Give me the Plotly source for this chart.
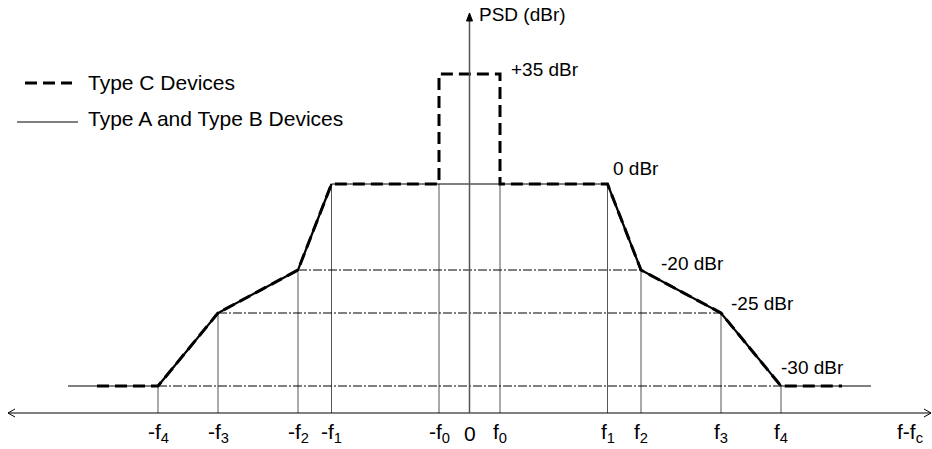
import plotly.graph_objects as go

# ---- schematic data (diagram units: x = frequency offset, y = height above axis) ----
freq_names = ["0", "1", "2", "3", "4"]
freq_offsets = [30.5, 138.0, 171.5, 251.5, 311.5]     # f0..f4
edge_levels = [0, 0, -20, -25, -30]                    # mask level (dBr) at each f
levels_dbr = [35, 0, -20, -25, -30]
level_heights = [339, 229, 143, 100, 27]
level_labels = ["+35 dBr", "0 dBr", "-20 dBr", "-25 dBr", "-30 dBr"]
tail_ab = 90      # extent of Type A/B line beyond f4
tail_c = 61       # extent of Type C dashes beyond f4
axis_half = 461.5
axis_top = 400

H = dict(zip(levels_dbr, level_heights))
F = dict(zip(freq_names, freq_offsets))
f0, f1, f2, f3, f4 = freq_offsets

BLACK = "#000000"
GRAY = "#555555"
FONT = "Liberation Sans, Arial, sans-serif"

fig = go.Figure()

def line(x, y, color=BLACK, width=1, dash="solid"):
    fig.add_trace(go.Scatter(x=x, y=y, mode="lines", hoverinfo="skip",
                             line=dict(color=color, width=width, dash=dash),
                             showlegend=False))

# vertical gray lines at +-f
for off, lev in zip(freq_offsets, edge_levels):
    for s in (-1, 1):
        line([s * off, s * off], [0, H[lev]], color=GRAY, width=1)

# dash-dot reference levels
for name, lev in zip(["2", "3", "4"], [-20, -25, -30]):
    line([-F[name], F[name]], [H[lev], H[lev]], color=BLACK, width=1,
         dash="9px,2px,2px,2px")

# Type A / B mask (thin solid)
mask_x = [-f4 - tail_ab, -f4, -f3, -f2, -f1, f1, f2, f3, f4, f4 + tail_ab]
mask_l = [-30, -30, -25, -20, 0, 0, -20, -25, -30, -30]
line(mask_x, [H[v] for v in mask_l], color=BLACK, width=1)

# Type C mask (thick dashed)
c_x = [-f4 - tail_c, -f4, -f3, -f2, -f1, -f0, -f0, f0, f0, f1, f2, f3, f4, f4 + tail_c]
c_l = [-30, -30, -25, -20, 0, 0, 35, 35, 0, 0, -20, -25, -30, -30]
line(c_x, [H[v] for v in c_l], color=BLACK, width=3, dash="12px,6px")

# slopes (common to both) thick solid
for s in (-1, 1):
    sx = [s * f4, s * f3, s * f2, s * f1]
    sl = [-30, -25, -20, 0]
    line(sx, [H[v] for v in sl], color=BLACK, width=2.2)

# axes
line([-axis_half, axis_half], [0, 0], color=BLACK, width=1)
line([0, 0], [0, axis_top - 6], color=GRAY, width=1.5)
# vertical arrowhead (filled)
fig.add_trace(go.Scatter(x=[-3, 3, 0, -3], y=[axis_top - 8, axis_top - 8, axis_top, axis_top - 8],
                         mode="lines", fill="toself", fillcolor=BLACK,
                         line=dict(color=BLACK, width=1), hoverinfo="skip", showlegend=False))
# horizontal open arrowheads
for s in (-1, 1):
    line([s * (axis_half - 7), s * axis_half, s * (axis_half - 7)], [4, 0, -4],
         color=BLACK, width=1)

annotations = []

def text(x, y, t, size=19, xanchor="left", yanchor="middle"):
    annotations.append(dict(x=x, y=y, xref="x", yref="y", text=t, showarrow=False,
                            xanchor=xanchor, yanchor=yanchor,
                            font=dict(family=FONT, size=size, color=BLACK)))

# level labels
label_pos = [(f0 + 9, H[35] + 5), (f1 + 3, H[0] + 16), (f2 + 18, H[-20] + 7),
             (f3 + 8, H[-25] + 10), (f4 - 2, H[-30] + 19)]
for (x, y), t in zip(label_pos, level_labels):
    text(x, y, t)

text(7, axis_top - 1, "PSD (dBr)")

# frequency tick labels
tick_y = -20
for name, off in zip(freq_names, freq_offsets):
    text(-off, tick_y, "-f<sub>%s</sub>" % name, size=21, xanchor="center")
    text(off, tick_y, "f<sub>%s</sub>" % name, size=21, xanchor="center")
text(0, tick_y, "0", size=21, xanchor="center")
text(440, tick_y, "f-f<sub>c</sub>", size=21, xanchor="center")

# legend (drawn manually)
line([-444.5, -397.5], [330, 330], color=BLACK, width=3, dash="12px,6px")
text(-383.5, 331, "Type C Devices", size=21)
line([-452.5, -391.5], [291, 291], color=BLACK, width=1)
text(-383.5, 295, "Type A and Type B Devices", size=21)

fig.update_layout(
    width=932, height=449,
    margin=dict(l=0, r=0, t=0, b=0),
    paper_bgcolor="white", plot_bgcolor="white",
    xaxis=dict(range=[-469.5, 462.5], visible=False, fixedrange=True),
    yaxis=dict(range=[-36, 413], visible=False, fixedrange=True),
    annotations=annotations,
    showlegend=False,
)

fig.write_html("out.html", config={"displayModeBar": False},
               post_script="document.body.style.margin='0';document.body.style.overflow='hidden';")
